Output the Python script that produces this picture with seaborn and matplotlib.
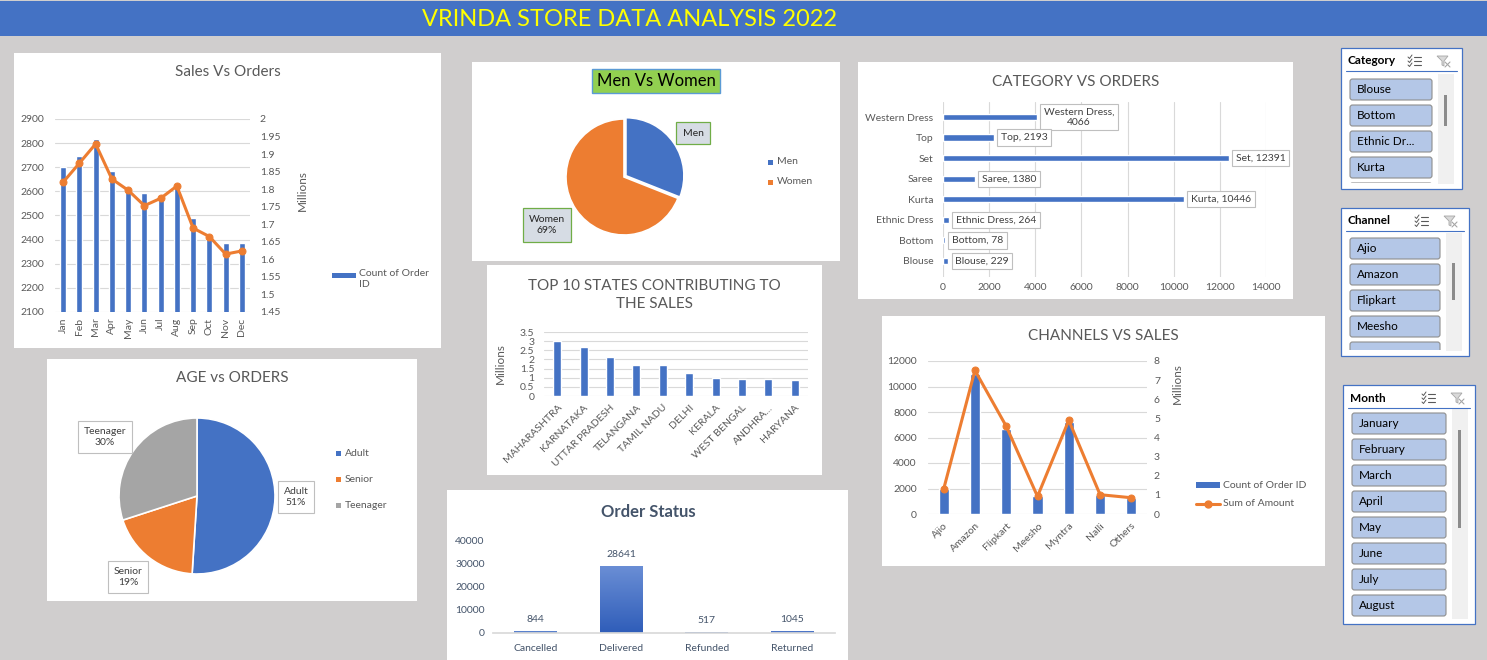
import matplotlib
matplotlib.use('Agg')
import matplotlib.pyplot as plt
from matplotlib.patches import Rectangle, FancyBboxPatch, Polygon
from matplotlib.colors import LinearSegmentedColormap
import numpy as np
import seaborn as sns

# ---- data ----
months = ['Jan', 'Feb', 'Mar', 'Apr', 'May', 'Jun', 'Jul', 'Aug', 'Sep', 'Oct', 'Nov', 'Dec']
month_orders = [2701, 2748, 2818, 2686, 2605, 2595, 2584, 2622, 2491, 2421, 2385, 2385]
month_sales = [1.820, 1.874, 1.929, 1.829, 1.797, 1.753, 1.774, 1.809, 1.689, 1.665, 1.615, 1.624]

genders = ['Men', 'Women']
gender_share = [31, 69]

categories = ['Western Dress', 'Top', 'Set', 'Saree', 'Kurta', 'Ethnic Dress', 'Bottom', 'Blouse']
category_orders = [4066, 2193, 12391, 1380, 10446, 264, 78, 229]

states = ['MAHARASHTRA', 'KARNATAKA', 'UTTAR PRADESH', 'TELANGANA', 'TAMIL NADU',
          'DELHI', 'KERALA', 'WEST BENGAL', 'ANDHRA...', 'HARYANA']
state_sales = [2.99, 2.66, 2.13, 1.71, 1.70, 1.26, 0.99, 0.94, 0.94, 0.85]

age_groups = ['Adult', 'Senior', 'Teenager']
age_share = [51, 19, 30]

statuses = ['Cancelled', 'Delivered', 'Refunded', 'Returned']
status_orders = [844, 28641, 517, 1045]

channels = ['Ajio', 'Amazon', 'Flipkart', 'Meesho', 'Myntra', 'Nalli', 'Others']
channel_orders = [1956, 10978, 6675, 1382, 7249, 1460, 1225]
channel_sales = [1.30, 7.51, 4.59, 0.92, 4.90, 1.01, 0.85]

slicer_categories = ['Blouse', 'Bottom', 'Ethnic Dr...', 'Kurta', '']
slicer_channels = ['Ajio', 'Amazon', 'Flipkart', 'Meesho', '']
slicer_months = ['January', 'February', 'March', 'April', 'May', 'June', 'July', 'August']

# ---- style ----
sns.set_theme(style='white')
plt.rcParams['font.family'] = ['Lato', 'DejaVu Sans']

BLUE = '#4472C4'
ORANGE = '#ED7D31'
GREY = '#A5A5A5'
TXT = '#595959'
GRID = '#D9D9D9'

W, H = 1487, 660
fig = plt.figure(figsize=(W / 100, H / 100), dpi=100)
fig.patch.set_facecolor('#D0CECE')


def box(x0, y0, x1, y1):
    return [x0 / W, 1 - y1 / H, (x1 - x0) / W, (y1 - y0) / H]


def panel(x0, y0, x1, y1):
    fig.add_artist(Rectangle((x0 / W, 1 - y1 / H), (x1 - x0) / W, (y1 - y0) / H,
                             transform=fig.transFigure, fc='white', ec='none', zorder=-5))


def ftext(x, y, s, **kw):
    return fig.text(x / W, 1 - y / H, s, **kw)


def clean(ax, pad_x=4, pad_y=7):
    for s in ax.spines.values():
        s.set_visible(False)
    ax.tick_params(axis='x', length=0, labelsize=7.5, labelcolor=TXT, pad=pad_x)
    ax.tick_params(axis='y', length=0, labelsize=7.5, labelcolor=TXT, pad=pad_y)
    ax.set_xlabel('')
    ax.set_ylabel('')
    ax.set_facecolor('none')


# header band
fig.add_artist(Rectangle((0, 1 - 36 / H), 1, 35 / H, transform=fig.transFigure,
                         fc=BLUE, ec='none', zorder=-4))
ftext(629, 19, 'VRINDA STORE DATA ANALYSIS 2022', color='#FFFF00', fontsize=17,
      ha='center', va='center')

# ---- Sales Vs Orders ----
panel(14, 53, 441, 348)
ftext(228, 72, 'Sales Vs Orders', fontsize=11, color=TXT, ha='center', va='center')
ax = fig.add_axes(box(55, 119, 250, 312))
sns.barplot(x=months, y=month_orders, color=BLUE, saturation=1, width=0.37, ax=ax)
clean(ax, pad_y=8)
ax.set_ylim(2100, 2900)
ax.set_yticks(range(2100, 3000, 100))
ax.yaxis.grid(True, color=GRID, lw=0.8)
ax.set_axisbelow(True)
ax.tick_params(axis='x', rotation=90)
ax2 = ax.twinx()
sns.lineplot(x=np.arange(len(months)), y=month_sales, ax=ax2, color=ORANGE, lw=2.2,
             marker='o', markersize=5, markeredgecolor=ORANGE)
clean(ax2, pad_y=7)
ax2.set_ylim(1.45, 2.0)
ax2.set_yticks(np.arange(1.45, 2.001, 0.05))
ax2.set_yticklabels(['%g' % round(v, 2) for v in np.arange(1.45, 2.001, 0.05)])
ax2.set_ylabel('Millions', fontsize=8.5, color=TXT)
ax2.yaxis.set_label_coords(1.24, 0.63)
ax.set_xlim(-0.5, len(months) - 0.5)
fig.add_artist(Rectangle((332 / W, 1 - 278 / H), 24 / W, 5 / H, transform=fig.transFigure,
                         fc=BLUE, ec='none'))
ftext(359, 269, 'Count of Order\nID', fontsize=7.5, color=TXT, va='top', linespacing=1.35)

# ---- Men Vs Women ----
panel(472, 62, 840, 261)
ftext(656, 81, 'Men Vs Women', fontsize=12, color='black', ha='center', va='center',
      bbox=dict(boxstyle='square,pad=0.25', fc='#92D050', ec='#5B9BD5', lw=1))
ax = fig.add_axes(box(551.5, 104.5, 696.5, 249.5))
ax.pie(gender_share, colors=[BLUE, ORANGE], startangle=90, counterclock=False,
       explode=(0.04, 0), wedgeprops=dict(edgecolor='white', lw=1.2))
ax.set_aspect('equal')
ftext(693, 133, 'Men', fontsize=7.5, color='#262626', ha='center', va='center',
      bbox=dict(boxstyle='square,pad=0.6', fc='#D6DCE4', ec='#70AD47', lw=0.9))
ftext(547, 225, '%s\n%d%%' % (genders[1], gender_share[1]), fontsize=7.5, color='#262626',
      ha='center', va='center', linespacing=1.4,
      bbox=dict(boxstyle='square,pad=0.6', fc='#D6DCE4', ec='#70AD47', lw=0.9))
for k, (g, c) in enumerate(zip(genders, [BLUE, ORANGE])):
    fig.add_artist(Rectangle((768 / W, 1 - (165 + 20 * k) / H), 5 / W, 5 / H,
                             transform=fig.transFigure, fc=c, ec='none'))
    ftext(777, 162 + 20 * k, g, fontsize=7.5, color=TXT, va='center')

# ---- Category Vs Orders ----
panel(858, 62, 1293, 299)
ftext(1076, 82, 'CATEGORY VS ORDERS', fontsize=11, color=TXT, ha='center', va='center')
ax = fig.add_axes(box(943, 102, 1266, 277))
sns.barplot(x=category_orders, y=categories, orient='h', color=BLUE, saturation=1,
            width=0.3, ax=ax)
clean(ax, pad_x=4, pad_y=7)
ax.set_xlim(0, 14000)
ax.set_xticks(range(0, 14001, 2000))
ax.set_ylim(7.78, -0.73)
ax.xaxis.grid(True, color=GRID, lw=0.8)
ax.set_axisbelow(True)
for i, (c, v) in enumerate(zip(categories, category_orders)):
    lab = '%s, %d' % (c, v)
    if len(lab) > 18:
        lab = '%s,\n%d' % (c, v)
    ax.annotate(lab, xy=(v, i), xytext=(5, 0), textcoords='offset points', ha='left',
                va='center', fontsize=7.5, color='#404040', multialignment='center',
                annotation_clip=False,
                bbox=dict(boxstyle='square,pad=0.35', fc='white', ec='#BFBFBF', lw=0.8))

# ---- Top 10 states ----
panel(487, 265, 822, 475)
ftext(654, 295, 'TOP 10 STATES CONTRIBUTING TO\nTHE SALES', fontsize=11, color=TXT,
      ha='center', va='center', linespacing=1.45)
ax = fig.add_axes(box(544, 332, 808, 396))
sns.barplot(x=states, y=state_sales, color=BLUE, saturation=1, width=0.3, ax=ax)
clean(ax, pad_x=5, pad_y=7)
ax.set_ylim(0, 3.5)
ax.set_yticks(np.arange(0, 3.51, 0.5))
ax.set_yticklabels(['%g' % v for v in np.arange(0, 3.51, 0.5)])
ax.yaxis.grid(True, color=GRID, lw=0.8)
ax.set_axisbelow(True)
ax.set_xticks(range(len(states)))
ax.set_xticklabels(states, rotation=45, ha='right', rotation_mode='anchor')
ax.set_ylabel('Millions', fontsize=8.5, color=TXT)
ax.yaxis.set_label_coords(-0.145, 0.5)

# ---- AGE vs ORDERS ----
panel(47, 359, 417, 601)
ftext(232, 378, 'AGE vs ORDERS', fontsize=11, color=TXT, ha='center', va='center')
ax = fig.add_axes(box(99.5, 398.5, 294.5, 593.5))
ax.pie(age_share, colors=[BLUE, ORANGE, GREY], startangle=90, counterclock=False,
       wedgeprops=dict(edgecolor='white', lw=1.2))
ax.set_aspect('equal')
for (x, y), g, s in zip([(296, 497), (128, 577), (105, 437)], age_groups, age_share):
    ftext(x, y, '%s\n%d%%' % (g, s), fontsize=7.5, color='#404040', ha='center',
          va='center', linespacing=1.4,
          bbox=dict(boxstyle='square,pad=0.5', fc='white', ec='#BFBFBF', lw=0.8))
for k, (g, c) in enumerate(zip(age_groups, [BLUE, ORANGE, GREY])):
    fig.add_artist(Rectangle((336 / W, 1 - (456 + 26 * k) / H), 5 / W, 5 / H,
                             transform=fig.transFigure, fc=c, ec='none'))
    ftext(345, 453 + 26 * k, g, fontsize=7.5, color=TXT, va='center')

# ---- Order Status ----
panel(447, 490, 848, 661)
ftext(648, 512, 'Order Status', fontsize=12, fontweight='bold', color='#44546A',
      ha='center', va='center')
ax = fig.add_axes(box(493, 540, 835, 633))
sns.barplot(x=statuses, y=status_orders, color=BLUE, saturation=1, width=0.5, ax=ax)
clean(ax, pad_x=8, pad_y=6)
ax.tick_params(labelcolor='#44546A')
ax.spines['bottom'].set_visible(True)
ax.spines['bottom'].set_color(GRID)
ax.bar_label(ax.containers[0], padding=5, fontsize=7.5, color='#44546A')
grad = LinearSegmentedColormap.from_list('bar', ['#2F5DB9', '#6A8ED5'])
for p in list(ax.patches):
    x0, y0, w, h = p.get_x(), p.get_y(), p.get_width(), p.get_height()
    im = ax.imshow(np.linspace(0, 1, 256).reshape(-1, 1), extent=[x0, x0 + w, y0, y0 + h],
                   aspect='auto', cmap=grad, origin='lower', zorder=p.get_zorder() + 0.1)
    im.set_clip_path(p)
ax.set_xlim(-0.5, len(statuses) - 0.5)
ax.set_ylim(0, 40000)
ax.set_yticks(range(0, 40001, 10000))

# ---- Channels vs Sales ----
panel(882, 316, 1325, 566)
ftext(1103, 336, 'CHANNELS VS SALES', fontsize=11, color=TXT, ha='center', va='center')
ax = fig.add_axes(box(928, 361, 1147, 514))
sns.barplot(x=channels, y=channel_orders, color=BLUE, saturation=1, width=0.32, ax=ax)
clean(ax, pad_x=5, pad_y=8)
ax.set_ylim(0, 12000)
ax.set_yticks(range(0, 12001, 2000))
ax.yaxis.grid(True, color=GRID, lw=0.8)
ax.set_axisbelow(True)
ax.set_xticks(range(len(channels)))
ax.set_xticklabels(channels, rotation=45, ha='right', rotation_mode='anchor')
ax2 = ax.twinx()
sns.lineplot(x=np.arange(len(channels)), y=channel_sales, ax=ax2, color=ORANGE, lw=2.2,
             marker='o', markersize=5, markeredgecolor=ORANGE)
clean(ax2, pad_y=5)
ax2.set_ylim(0, 8)
ax2.set_yticks(range(0, 9))
ax2.set_ylabel('Millions', fontsize=8.5, color=TXT)
ax2.yaxis.set_label_coords(1.115, 0.85)
ax.set_xlim(-0.5, len(channels) - 0.5)
fig.add_artist(Rectangle((1196 / W, 1 - 488 / H), 24 / W, 6 / H, transform=fig.transFigure,
                         fc=BLUE, ec='none'))
ftext(1223, 485, 'Count of Order ID', fontsize=7.5, color=TXT, va='center')
fig.add_artist(plt.Line2D([1196 / W, 1220 / W], [1 - 504 / H] * 2, color=ORANGE, lw=2.2,
                          transform=fig.transFigure))
fig.add_artist(plt.Line2D([1208 / W], [1 - 504 / H], color=ORANGE, marker='o', markersize=5,
                          transform=fig.transFigure))
ftext(1223, 504, 'Sum of Amount', fontsize=7.5, color=TXT, va='center')


# ---- slicers ----
def slicer(x0, y0, x1, y1, title, items, btn_x1, first_top, sb_x0, thumb, icon_x):
    sax = fig.add_axes(box(x0, y0, x1, y1))
    sax.set_xlim(x0, x1)
    sax.set_ylim(y1, y0)
    sax.axis('off')
    sax.add_patch(Rectangle((x0, y0), x1 - x0, y1 - y0, fc='white', ec=BLUE, lw=0.9,
                            clip_on=False))
    iy = y0 + 13
    sax.text(x0 + 7, iy, title, fontsize=8.5, fontweight='bold', color='black', va='center')
    sax.plot([x0 + 5, x1 - 5], [y0 + 23, y0 + 23], color=BLUE, lw=0.8)
    # multi-select icon
    for dy in (-4, 0, 4):
        sax.plot([icon_x - 6, icon_x - 4.5, icon_x - 2], [iy + dy, iy + dy + 1.5, iy + dy - 2],
                 color=TXT, lw=0.7)
        sax.plot([icon_x, icon_x + 7], [iy + dy, iy + dy], color=TXT, lw=0.8)
    # clear filter icon
    fx = icon_x + 29
    sax.add_patch(Polygon([(fx - 6, iy - 5), (fx + 5, iy - 5), (fx + 1, iy), (fx + 1, iy + 5),
                           (fx - 1, iy + 4), (fx - 1, iy)], closed=True, fc='#D9D9D9',
                          ec='#A6A6A6', lw=0.6))
    sax.plot([fx + 2, fx + 7], [iy + 1, iy + 6], color='#A6A6A6', lw=0.8)
    sax.plot([fx + 2, fx + 7], [iy + 6, iy + 1], color='#A6A6A6', lw=0.8)
    clip = Rectangle((x0, y0 + 25), x1 - x0, y1 - y0 - 31, transform=sax.transData)
    sax.add_patch(Rectangle((sb_x0, first_top - 5), 16, y1 - first_top, fc='#F0F0F0',
                            ec='none'))
    sax.add_patch(Rectangle((sb_x0 + 6, thumb[0]), 3, thumb[1] - thumb[0], fc='#8C8C8C',
                            ec='none'))
    for k, item in enumerate(items):
        top = first_top + 26 * k
        b = FancyBboxPatch((x0 + 9, top), btn_x1 - x0 - 9, 21,
                           boxstyle='round,pad=0,rounding_size=2.5', fc='#B4C7E7',
                           ec='#8E8E8E', lw=0.8)
        sax.add_patch(b)
        b.set_clip_path(clip)
        sax.text(x0 + 16, top + 10.5, item, fontsize=8.5, color='black', va='center')


slicer(1341, 48, 1462, 189, 'Category', slicer_categories, 1432, 79, 1438, (95, 126), 1414)
slicer(1341, 208, 1469, 356, 'Channel', slicer_channels, 1440, 238, 1446, (263, 300), 1421)
slicer(1343, 385, 1475, 624, 'Month', slicer_months, 1446, 413, 1452, (430, 528), 1428)

fig.savefig('out.png', dpi=100, facecolor=fig.get_facecolor())
